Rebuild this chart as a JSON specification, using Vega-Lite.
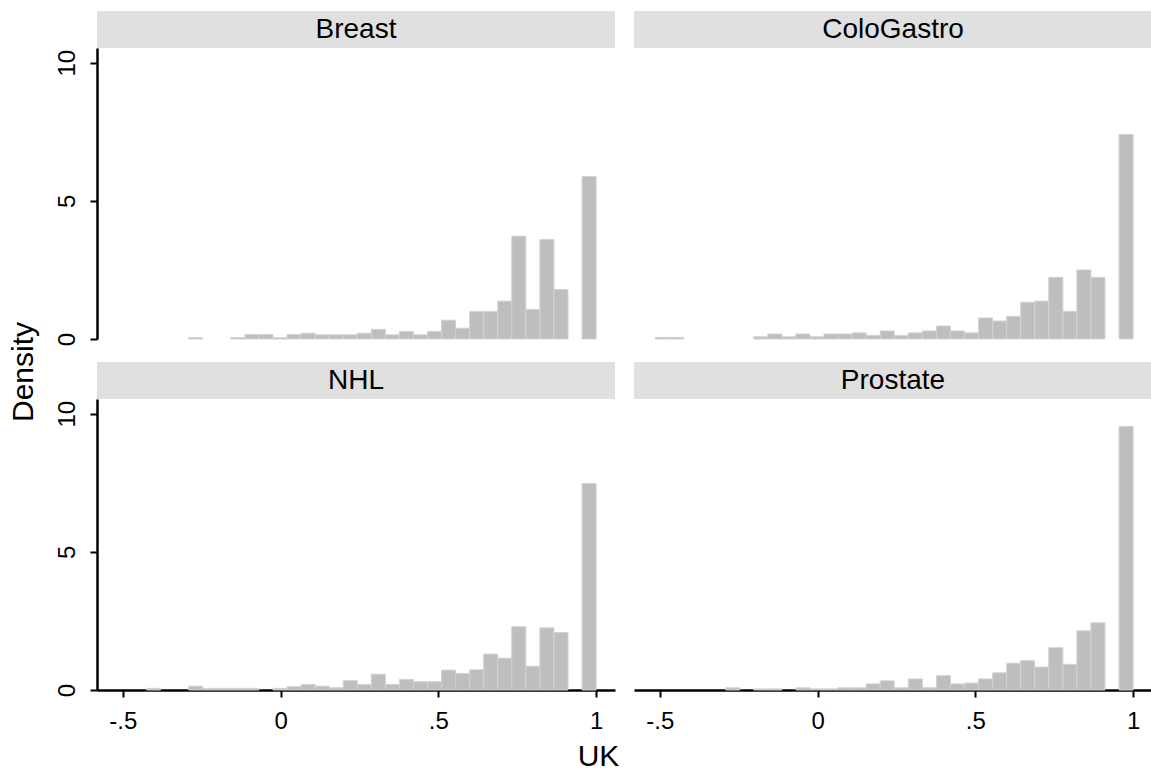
{
  "$schema": "https://vega.github.io/schema/vega-lite/v6.json",
  "background": "white",
  "padding": {"left": 9, "top": 11, "right": 0, "bottom": 0},
  "config": {
    "font": "Liberation Sans",
    "view": {"stroke": null},
    "axis": {
      "domainColor": "black", "domainWidth": 2.5, "tickColor": "black", "tickWidth": 2, "tickSize": 7,
      "labelFontSize": 24, "labelColor": "black", "labelFont": "Liberation Sans", "grid": false, "title": null, "labelFlush": false
    }
  },
  "datasets": {
    "strips": [{"panel": "Breast"}, {"panel": "ColoGastro"}, {"panel": "NHL"}, {"panel": "Prostate"}],
    "bins": [
      {"panel": "Breast", "lo": -0.2913, "hi": -0.2468, "density": 0.05},
      {"panel": "Breast", "lo": -0.1578, "hi": -0.1132, "density": 0.05},
      {"panel": "Breast", "lo": -0.1132, "hi": -0.0687, "density": 0.16},
      {"panel": "Breast", "lo": -0.0687, "hi": -0.0242, "density": 0.16},
      {"panel": "Breast", "lo": -0.0242, "hi": 0.0204, "density": 0.05},
      {"panel": "Breast", "lo": 0.0204, "hi": 0.0649, "density": 0.16},
      {"panel": "Breast", "lo": 0.0649, "hi": 0.1094, "density": 0.21},
      {"panel": "Breast", "lo": 0.1094, "hi": 0.154, "density": 0.15},
      {"panel": "Breast", "lo": 0.154, "hi": 0.1985, "density": 0.15},
      {"panel": "Breast", "lo": 0.1985, "hi": 0.243, "density": 0.15},
      {"panel": "Breast", "lo": 0.243, "hi": 0.2875, "density": 0.21},
      {"panel": "Breast", "lo": 0.2875, "hi": 0.3321, "density": 0.35},
      {"panel": "Breast", "lo": 0.3321, "hi": 0.3766, "density": 0.15},
      {"panel": "Breast", "lo": 0.3766, "hi": 0.4211, "density": 0.27},
      {"panel": "Breast", "lo": 0.4211, "hi": 0.4657, "density": 0.15},
      {"panel": "Breast", "lo": 0.4657, "hi": 0.5102, "density": 0.27},
      {"panel": "Breast", "lo": 0.5102, "hi": 0.5547, "density": 0.68},
      {"panel": "Breast", "lo": 0.5547, "hi": 0.5993, "density": 0.39},
      {"panel": "Breast", "lo": 0.5993, "hi": 0.6438, "density": 0.99},
      {"panel": "Breast", "lo": 0.6438, "hi": 0.6883, "density": 0.99},
      {"panel": "Breast", "lo": 0.6883, "hi": 0.7328, "density": 1.37},
      {"panel": "Breast", "lo": 0.7328, "hi": 0.7774, "density": 3.72},
      {"panel": "Breast", "lo": 0.7774, "hi": 0.8219, "density": 1.07},
      {"panel": "Breast", "lo": 0.8219, "hi": 0.8664, "density": 3.6},
      {"panel": "Breast", "lo": 0.8664, "hi": 0.911, "density": 1.79},
      {"panel": "Breast", "lo": 0.9555, "hi": 1.0, "density": 5.88},

      {"panel": "ColoGastro", "lo": -0.514, "hi": -0.4695, "density": 0.06},
      {"panel": "ColoGastro", "lo": -0.4695, "hi": -0.4249, "density": 0.06},
      {"panel": "ColoGastro", "lo": -0.2023, "hi": -0.1578, "density": 0.08},
      {"panel": "ColoGastro", "lo": -0.1578, "hi": -0.1132, "density": 0.18},
      {"panel": "ColoGastro", "lo": -0.1132, "hi": -0.0687, "density": 0.08},
      {"panel": "ColoGastro", "lo": -0.0687, "hi": -0.0242, "density": 0.18},
      {"panel": "ColoGastro", "lo": -0.0242, "hi": 0.0204, "density": 0.08},
      {"panel": "ColoGastro", "lo": 0.0204, "hi": 0.0649, "density": 0.18},
      {"panel": "ColoGastro", "lo": 0.0649, "hi": 0.1094, "density": 0.18},
      {"panel": "ColoGastro", "lo": 0.1094, "hi": 0.154, "density": 0.22},
      {"panel": "ColoGastro", "lo": 0.154, "hi": 0.1985, "density": 0.13},
      {"panel": "ColoGastro", "lo": 0.1985, "hi": 0.243, "density": 0.29},
      {"panel": "ColoGastro", "lo": 0.243, "hi": 0.2875, "density": 0.13},
      {"panel": "ColoGastro", "lo": 0.2875, "hi": 0.3321, "density": 0.22},
      {"panel": "ColoGastro", "lo": 0.3321, "hi": 0.3766, "density": 0.29},
      {"panel": "ColoGastro", "lo": 0.3766, "hi": 0.4211, "density": 0.47},
      {"panel": "ColoGastro", "lo": 0.4211, "hi": 0.4657, "density": 0.29},
      {"panel": "ColoGastro", "lo": 0.4657, "hi": 0.5102, "density": 0.22},
      {"panel": "ColoGastro", "lo": 0.5102, "hi": 0.5547, "density": 0.76},
      {"panel": "ColoGastro", "lo": 0.5547, "hi": 0.5993, "density": 0.65},
      {"panel": "ColoGastro", "lo": 0.5993, "hi": 0.6438, "density": 0.82},
      {"panel": "ColoGastro", "lo": 0.6438, "hi": 0.6883, "density": 1.33},
      {"panel": "ColoGastro", "lo": 0.6883, "hi": 0.7328, "density": 1.37},
      {"panel": "ColoGastro", "lo": 0.7328, "hi": 0.7774, "density": 2.23},
      {"panel": "ColoGastro", "lo": 0.7774, "hi": 0.8219, "density": 1.0},
      {"panel": "ColoGastro", "lo": 0.8219, "hi": 0.8664, "density": 2.5},
      {"panel": "ColoGastro", "lo": 0.8664, "hi": 0.911, "density": 2.23},
      {"panel": "ColoGastro", "lo": 0.9555, "hi": 1.0, "density": 7.4},

      {"panel": "NHL", "lo": -0.4249, "hi": -0.3804, "density": 0.06},
      {"panel": "NHL", "lo": -0.2913, "hi": -0.2468, "density": 0.14},
      {"panel": "NHL", "lo": -0.2468, "hi": -0.2023, "density": 0.06},
      {"panel": "NHL", "lo": -0.2023, "hi": -0.1578, "density": 0.06},
      {"panel": "NHL", "lo": -0.1578, "hi": -0.1132, "density": 0.06},
      {"panel": "NHL", "lo": -0.1132, "hi": -0.0687, "density": 0.06},
      {"panel": "NHL", "lo": -0.0242, "hi": 0.0204, "density": 0.06},
      {"panel": "NHL", "lo": 0.0204, "hi": 0.0649, "density": 0.12},
      {"panel": "NHL", "lo": 0.0649, "hi": 0.1094, "density": 0.2},
      {"panel": "NHL", "lo": 0.1094, "hi": 0.154, "density": 0.14},
      {"panel": "NHL", "lo": 0.154, "hi": 0.1985, "density": 0.08},
      {"panel": "NHL", "lo": 0.1985, "hi": 0.243, "density": 0.34},
      {"panel": "NHL", "lo": 0.243, "hi": 0.2875, "density": 0.2},
      {"panel": "NHL", "lo": 0.2875, "hi": 0.3321, "density": 0.57},
      {"panel": "NHL", "lo": 0.3321, "hi": 0.3766, "density": 0.2},
      {"panel": "NHL", "lo": 0.3766, "hi": 0.4211, "density": 0.38},
      {"panel": "NHL", "lo": 0.4211, "hi": 0.4657, "density": 0.3},
      {"panel": "NHL", "lo": 0.4657, "hi": 0.5102, "density": 0.3},
      {"panel": "NHL", "lo": 0.5102, "hi": 0.5547, "density": 0.72},
      {"panel": "NHL", "lo": 0.5547, "hi": 0.5993, "density": 0.6},
      {"panel": "NHL", "lo": 0.5993, "hi": 0.6438, "density": 0.73},
      {"panel": "NHL", "lo": 0.6438, "hi": 0.6883, "density": 1.3},
      {"panel": "NHL", "lo": 0.6883, "hi": 0.7328, "density": 1.15},
      {"panel": "NHL", "lo": 0.7328, "hi": 0.7774, "density": 2.29},
      {"panel": "NHL", "lo": 0.7774, "hi": 0.8219, "density": 0.86},
      {"panel": "NHL", "lo": 0.8219, "hi": 0.8664, "density": 2.25},
      {"panel": "NHL", "lo": 0.8664, "hi": 0.911, "density": 2.08},
      {"panel": "NHL", "lo": 0.9555, "hi": 1.0, "density": 7.47},

      {"panel": "Prostate", "lo": -0.2913, "hi": -0.2468, "density": 0.08},
      {"panel": "Prostate", "lo": -0.2023, "hi": -0.1578, "density": 0.04},
      {"panel": "Prostate", "lo": -0.1578, "hi": -0.1132, "density": 0.04},
      {"panel": "Prostate", "lo": -0.0687, "hi": -0.0242, "density": 0.08},
      {"panel": "Prostate", "lo": -0.0242, "hi": 0.0204, "density": 0.04},
      {"panel": "Prostate", "lo": 0.0204, "hi": 0.0649, "density": 0.04},
      {"panel": "Prostate", "lo": 0.0649, "hi": 0.1094, "density": 0.08},
      {"panel": "Prostate", "lo": 0.1094, "hi": 0.154, "density": 0.08},
      {"panel": "Prostate", "lo": 0.154, "hi": 0.1985, "density": 0.22},
      {"panel": "Prostate", "lo": 0.1985, "hi": 0.243, "density": 0.33},
      {"panel": "Prostate", "lo": 0.243, "hi": 0.2875, "density": 0.08},
      {"panel": "Prostate", "lo": 0.2875, "hi": 0.3321, "density": 0.4},
      {"panel": "Prostate", "lo": 0.3321, "hi": 0.3766, "density": 0.08},
      {"panel": "Prostate", "lo": 0.3766, "hi": 0.4211, "density": 0.52},
      {"panel": "Prostate", "lo": 0.4211, "hi": 0.4657, "density": 0.22},
      {"panel": "Prostate", "lo": 0.4657, "hi": 0.5102, "density": 0.25},
      {"panel": "Prostate", "lo": 0.5102, "hi": 0.5547, "density": 0.4},
      {"panel": "Prostate", "lo": 0.5547, "hi": 0.5993, "density": 0.62},
      {"panel": "Prostate", "lo": 0.5993, "hi": 0.6438, "density": 0.97},
      {"panel": "Prostate", "lo": 0.6438, "hi": 0.6883, "density": 1.06},
      {"panel": "Prostate", "lo": 0.6883, "hi": 0.7328, "density": 0.83},
      {"panel": "Prostate", "lo": 0.7328, "hi": 0.7774, "density": 1.53},
      {"panel": "Prostate", "lo": 0.7774, "hi": 0.8219, "density": 0.93},
      {"panel": "Prostate", "lo": 0.8219, "hi": 0.8664, "density": 2.14},
      {"panel": "Prostate", "lo": 0.8664, "hi": 0.911, "density": 2.43},
      {"panel": "Prostate", "lo": 0.9555, "hi": 1.0, "density": 9.54}
    ]
  },
  "title": {"text": "UK", "orient": "bottom", "anchor": "middle", "fontSize": 30, "fontWeight": "normal", "color": "black", "font": "Liberation Sans", "offset": 9, "dx": 18},
  "vconcat": [
    {
      "title": {"text": "Density", "orient": "left", "anchor": "middle", "fontSize": 30, "fontWeight": "normal", "color": "black", "font": "Liberation Sans", "offset": 16},
      "vconcat": [
        {
          "hconcat": [
            {
              "spacing": 0,
              "vconcat": [
                {
                  "width": 518, "height": 37,
                  "data": {"name": "strips"},
                  "transform": [{"filter": "datum.panel === 'Breast'"}],
                  "layer": [
                    {"mark": {"type": "rect", "fill": "#e0e0e0"}, "encoding": {}},
                    {"mark": {"type": "text", "fontSize": 28, "color": "black"}, "encoding": {"text": {"field": "panel"}}}
                  ]
                },
                {
                  "width": 518, "height": 291,
                  "data": {"name": "bins"},
                  "transform": [{"filter": "datum.panel === 'Breast'"}],
                  "mark": {"type": "rect", "fill": "#bebebe", "stroke": "#d2d2d2", "strokeWidth": 1},
                  "encoding": {
                    "x": {"field": "lo", "type": "quantitative", "scale": {"domain": [-0.582, 1.06], "nice": false, "zero": false}, "axis": null},
                    "x2": {"field": "hi"},
                    "y": {"field": "density", "type": "quantitative", "scale": {"domain": [0, 10.53], "nice": false},
                      "axis": {"values": [0, 5, 10], "labelAngle": -90, "labelAlign": "center", "labelBaseline": "bottom", "labelPadding": 11}},
                    "y2": {"datum": 0}
                  }
                }
              ]
            },
            {
              "spacing": 0,
              "vconcat": [
                {
                  "width": 518, "height": 37,
                  "data": {"name": "strips"},
                  "transform": [{"filter": "datum.panel === 'ColoGastro'"}],
                  "layer": [
                    {"mark": {"type": "rect", "fill": "#e0e0e0"}, "encoding": {}},
                    {"mark": {"type": "text", "fontSize": 28, "color": "black"}, "encoding": {"text": {"field": "panel"}}}
                  ]
                },
                {
                  "width": 518, "height": 291,
                  "data": {"name": "bins"},
                  "transform": [{"filter": "datum.panel === 'ColoGastro'"}],
                  "mark": {"type": "rect", "fill": "#bebebe", "stroke": "#d2d2d2", "strokeWidth": 1},
                  "encoding": {
                    "x": {"field": "lo", "type": "quantitative", "scale": {"domain": [-0.582, 1.06], "nice": false, "zero": false}, "axis": null},
                    "x2": {"field": "hi"},
                    "y": {"field": "density", "type": "quantitative", "scale": {"domain": [0, 10.53], "nice": false}, "axis": null},
                    "y2": {"datum": 0}
                  }
                }
              ]
            }
          ],
          "spacing": 19
        },
        {
          "hconcat": [
            {
              "spacing": 0,
              "vconcat": [
                {
                  "width": 518, "height": 37,
                  "data": {"name": "strips"},
                  "transform": [{"filter": "datum.panel === 'NHL'"}],
                  "layer": [
                    {"mark": {"type": "rect", "fill": "#e0e0e0"}, "encoding": {}},
                    {"mark": {"type": "text", "fontSize": 28, "color": "black"}, "encoding": {"text": {"field": "panel"}}}
                  ]
                },
                {
                  "width": 518, "height": 291,
                  "data": {"name": "bins"},
                  "transform": [{"filter": "datum.panel === 'NHL'"}],
                  "mark": {"type": "rect", "fill": "#bebebe", "stroke": "#d2d2d2", "strokeWidth": 1},
                  "encoding": {
                    "x": {"field": "lo", "type": "quantitative", "scale": {"domain": [-0.582, 1.06], "nice": false, "zero": false},
                      "axis": {"values": [-0.5, 0, 0.5, 1], "labelExpr": "replace(toString(datum.value), '0.', '.')", "labelAngle": 0, "labelPadding": 12}},
                    "x2": {"field": "hi"},
                    "y": {"field": "density", "type": "quantitative", "scale": {"domain": [0, 10.53], "nice": false},
                      "axis": {"values": [0, 5, 10], "labelAngle": -90, "labelAlign": "center", "labelBaseline": "bottom", "labelPadding": 11}},
                    "y2": {"datum": 0}
                  }
                }
              ]
            },
            {
              "spacing": 0,
              "vconcat": [
                {
                  "width": 518, "height": 37,
                  "data": {"name": "strips"},
                  "transform": [{"filter": "datum.panel === 'Prostate'"}],
                  "layer": [
                    {"mark": {"type": "rect", "fill": "#e0e0e0"}, "encoding": {}},
                    {"mark": {"type": "text", "fontSize": 28, "color": "black"}, "encoding": {"text": {"field": "panel"}}}
                  ]
                },
                {
                  "width": 518, "height": 291,
                  "data": {"name": "bins"},
                  "transform": [{"filter": "datum.panel === 'Prostate'"}],
                  "mark": {"type": "rect", "fill": "#bebebe", "stroke": "#d2d2d2", "strokeWidth": 1},
                  "encoding": {
                    "x": {"field": "lo", "type": "quantitative", "scale": {"domain": [-0.582, 1.06], "nice": false, "zero": false},
                      "axis": {"values": [-0.5, 0, 0.5, 1], "labelExpr": "replace(toString(datum.value), '0.', '.')", "labelAngle": 0, "labelPadding": 12}},
                    "x2": {"field": "hi"},
                    "y": {"field": "density", "type": "quantitative", "scale": {"domain": [0, 10.53], "nice": false}, "axis": null},
                    "y2": {"datum": 0}
                  }
                }
              ]
            }
          ],
          "spacing": 19
        }
      ],
      "spacing": 16
    }
  ]
}
